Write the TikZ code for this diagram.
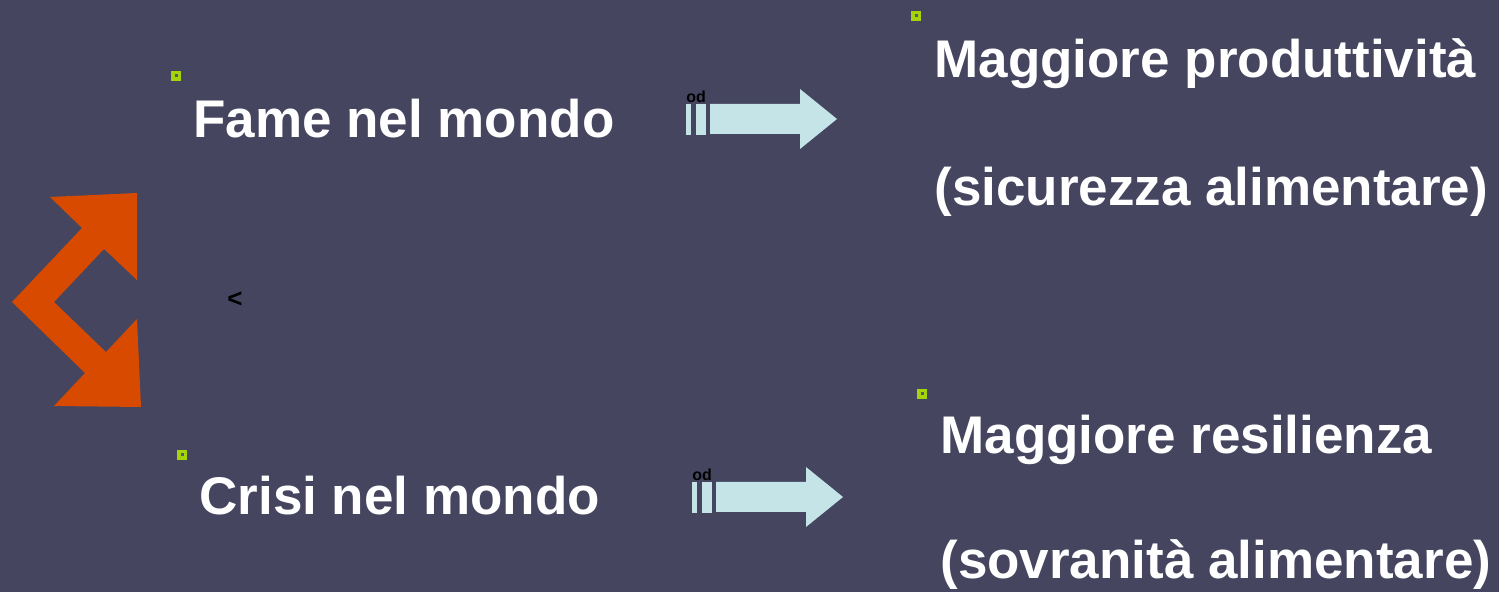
\documentclass[tikz,border=0pt]{standalone}
\usepackage{fontspec}
\setmainfont{Liberation Sans}
\definecolor{bg}{HTML}{454560}
\definecolor{orangeA}{HTML}{D84A00}
\definecolor{lblue}{HTML}{C4E4E8}
\definecolor{bulletgreen}{HTML}{A6D40A}
\definecolor{bulletin}{HTML}{555870}
\tikzset{
  bigtext/.style={anchor=base west, inner sep=0pt, text=white, font=\fontsize{26.5}{30}\selectfont\bfseries},
  tinytext/.style={anchor=base west, inner sep=0pt, text=black, font=\fontsize{8}{8}\selectfont\bfseries},
  barfill/.style={fill=lblue},
}
\newcommand{\mybullet}[2]{%
  \fill[bulletgreen] (#1-5,#2-5) rectangle (#1+5,#2+5);
  \fill[bulletin] (#1-1.5,#2-1.5) rectangle (#1+1.5,#2+1.5);
}
\begin{document}
\begin{tikzpicture}[x=0.5pt,y=-0.5pt]
\fill[bg] (0,0) rectangle (1499,592);
\useasboundingbox (0,0) rectangle (1499,592);

% orange double arrow
\fill[orangeA] (12,302) -- (82,228) -- (50,197) -- (137,193) -- (137,280) -- (104,249)
  -- (54,302) -- (106,352) -- (137,319) -- (141,407) -- (54,406) -- (85,373) -- cycle;

% bullets
\mybullet{176}{76}
\mybullet{916}{16}
\mybullet{182}{455}
\mybullet{922}{394}

% texts
\node[bigtext] (fame) at (193,138) {Fame nel mondo};
\node[bigtext] (crisi) at (199,515) {Crisi nel mondo};
\node[bigtext] (prod) at (934,78) {Maggiore produttività};
\node[bigtext] (sic) at (934,206) {(sicurezza alimentare)};
\node[bigtext] (res) at (940,454) {Maggiore resilienza};
\node[bigtext] (sov) at (940,579) {(sovranità alimentare)};

% arrow 1
\fill[lblue] (686,104) rectangle (691,135);
\fill[lblue] (696,104) rectangle (706,135);
\fill[lblue] (710,104) -- (800,104) -- (800,89) -- (837,119) -- (800,149) -- (800,134) -- (710,134) -- cycle;
\node[tinytext] (od1) at (686,103) {od};

% arrow 2
\fill[lblue] (692,482) rectangle (697,513);
\fill[lblue] (702,482) rectangle (712,513);
\fill[lblue] (716,482) -- (806,482) -- (806,467) -- (843,497) -- (806,527) -- (806,512) -- (716,512) -- cycle;
\node[tinytext] (od2) at (692,481) {od};

% stray glyph
\node[inner sep=0pt, text=black, font=\fontsize{13}{13}\selectfont\bfseries] (lt) at (235,300) {<};
\end{tikzpicture}
\end{document}
